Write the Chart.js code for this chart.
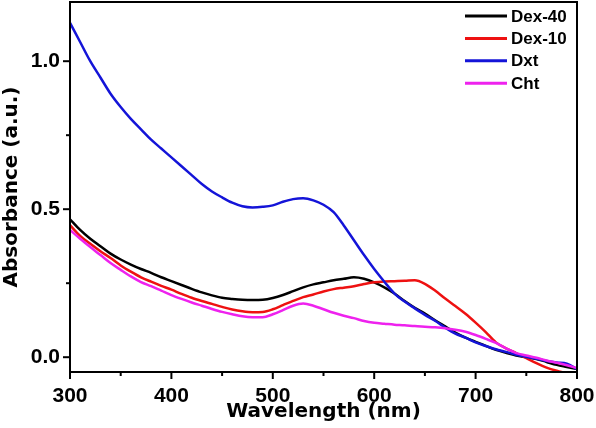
<!DOCTYPE html>
<html>
<head>
<meta charset="utf-8">
<script src="https://cdn.jsdelivr.net/npm/chart.js@4/dist/chart.umd.min.js"></script>
<style>
  html, body { margin: 0; padding: 0; background: #fff; }
  #wrap { width: 596px; height: 428px; }
</style>
</head>
<body>
<div id="wrap"><canvas id="uv"></canvas></div>
<script>
// UV-vis absorbance — 4 mẫu, đọc từ ảnh theo bước 10 nm
const wavelengths = [300, 310, 320, 330, 340, 350, 360, 370, 380, 390, 400, 410, 420, 430, 440, 450, 460, 470, 480, 490,
    500, 510, 520, 530, 540, 550, 560, 570, 580, 590, 600, 610, 620, 630, 640, 650, 660, 670, 680, 690,
    700, 710, 720, 730, 740, 750, 760, 770, 780, 790, 800];

const dex40 = [0.466, 0.43, 0.40, 0.375, 0.35, 0.33, 0.313, 0.298, 0.285, 0.27, 0.257, 0.244, 0.231, 0.219, 0.209, 0.201, 0.197, 0.194, 0.193, 0.194,
    0.2, 0.21, 0.223, 0.236, 0.246, 0.253, 0.26, 0.265, 0.27, 0.265, 0.253, 0.236, 0.215, 0.19, 0.167, 0.147, 0.125, 0.104, 0.083, 0.066,
    0.052, 0.038, 0.025, 0.015, 0.006, 0.0, -0.006, -0.016, -0.026, -0.033, -0.04];

const dex10 = [0.446, 0.41, 0.383, 0.358, 0.335, 0.31, 0.289, 0.27, 0.255, 0.241, 0.228, 0.214, 0.201, 0.19, 0.18, 0.17, 0.161, 0.155, 0.152, 0.153,
    0.162, 0.176, 0.19, 0.203, 0.212, 0.222, 0.23, 0.235, 0.24, 0.247, 0.253, 0.256, 0.257, 0.258, 0.26, 0.248, 0.225, 0.198, 0.173, 0.147,
    0.117, 0.085, 0.05, 0.03, 0.014, -0.003, -0.02, -0.035, -0.046, -0.055, -0.065];

const dxt = [1.13, 1.065, 1.0, 0.945, 0.89, 0.845, 0.805, 0.77, 0.735, 0.705, 0.675, 0.645, 0.615, 0.585, 0.56, 0.54, 0.522, 0.51, 0.506, 0.508,
    0.513, 0.525, 0.534, 0.537, 0.53, 0.515, 0.49, 0.445, 0.395, 0.345, 0.298, 0.255, 0.215, 0.188, 0.165, 0.143, 0.123, 0.1, 0.08, 0.066,
    0.05, 0.038, 0.027, 0.018, 0.008, 0.001, -0.005, -0.013, -0.018, -0.022, -0.04];

const cht = [0.43, 0.40, 0.372, 0.345, 0.318, 0.295, 0.273, 0.254, 0.24, 0.225, 0.21, 0.197, 0.185, 0.174, 0.163, 0.153, 0.145, 0.138, 0.135, 0.135,
    0.145, 0.159, 0.174, 0.181, 0.174, 0.162, 0.15, 0.14, 0.132, 0.122, 0.116, 0.113, 0.11, 0.108, 0.105, 0.103, 0.101, 0.098, 0.093, 0.086,
    0.075, 0.062, 0.048, 0.03, 0.014, 0.006, -0.002, -0.011, -0.019, -0.027, -0.037];

const seriesLabels = ['Dex-40', 'Dex-10', 'Dxt', 'Cht'];
const seriesValues = [dex40, dex10, dxt, cht];
const seriesColors = ['#000000', '#ee1111', '#1414d8', '#ee22ee'];
const seriesOrder = [3, 2, 1, 0];   // order nhỏ = vẽ sau (nằm trên)

const xTicks = [300, 350, 400, 450, 500, 550, 600, 650, 700, 750, 800];
const xTickLabels = [300, 400, 500, 600, 700, 800];
const yTicks = [0, 0.25, 0.5, 0.75, 1.0];
const yTickLabels = [0.0, 0.5, 1.0];

const FONT = 'Liberation Sans, Arial, sans-serif';
const TITLE_FONT = 'DejaVu Sans, sans-serif';   // chữ tiêu đề trục trong ảnh gốc rộng hơn Arial

const toPoints = (ys) => ys.map((y, i) => ({ x: wavelengths[i], y }));
const isMajorY = (v) => yTickLabels.some((t) => Math.abs(t - v) < 1e-6);

// Khung viền + vạch chia ra ngoài (chính/phụ) + chú giải trong vùng vẽ
const frameAndTicks = {
    id: 'frameAndTicks',
    afterDatasetsDraw(chart) {
        const { ctx, chartArea: a, scales } = chart;
        ctx.save();
        ctx.strokeStyle = '#000';
        ctx.lineWidth = 2;
        ctx.strokeRect(a.left, a.top, a.right - a.left, a.bottom - a.top);

        scales.x.ticks.forEach((t) => {
            const px = scales.x.getPixelForValue(t.value);
            const len = xTickLabels.includes(t.value) ? 7 : 4;
            ctx.beginPath(); ctx.moveTo(px, a.bottom); ctx.lineTo(px, a.bottom + len); ctx.stroke();
        });
        scales.y.ticks.forEach((t) => {
            const py = scales.y.getPixelForValue(t.value);
            const len = isMajorY(t.value) ? 7 : 4;
            ctx.beginPath(); ctx.moveTo(a.left, py); ctx.lineTo(a.left - len, py); ctx.stroke();
        });

        // chú giải
        ctx.font = `bold 17px ${FONT}`;
        ctx.textBaseline = 'middle';
        ctx.textAlign = 'left';
        chart.data.datasets.forEach((ds, i) => {
            const y = a.top + 14 + i * 22.4;
            ctx.strokeStyle = ds.borderColor;
            ctx.lineWidth = 3;
            ctx.beginPath(); ctx.moveTo(a.right - 112, y); ctx.lineTo(a.right - 70, y); ctx.stroke();
            ctx.fillStyle = '#000';
            ctx.fillText(ds.label, a.right - 66, y + 1);
        });
        ctx.restore();
    },
};

new Chart(document.getElementById('uv'), {
    type: 'line',
    data: {
        datasets: seriesLabels.map((label, i) => ({
            label,
            data: toPoints(seriesValues[i]),
            borderColor: seriesColors[i],
            backgroundColor: seriesColors[i],
            borderWidth: 2.5,
            pointRadius: 0,
            cubicInterpolationMode: 'monotone',
            order: seriesOrder[i],
        })),
    },
    options: {
        responsive: true,
        maintainAspectRatio: false,
        animation: false,
        layout: { padding: { top: 2, right: 19, bottom: 4, left: 0 } },
        plugins: { legend: { display: false }, tooltip: { enabled: false } },
        scales: {
            x: {
                type: 'linear', min: 300, max: 800,
                grid: { display: false, drawTicks: false },
                border: { display: false },
                ticks: {
                    padding: 12, color: '#000', maxRotation: 0, autoSkip: false,
                    font: { family: FONT, size: 21, weight: 'bold' },
                    callback: (v) => (xTickLabels.includes(v) ? String(v) : ''),
                },
                title: { display: true, text: 'Wavelength (nm)', color: '#000', padding: 0,
                    font: { family: TITLE_FONT, size: 20, weight: 'bold' } },
                afterBuildTicks: (s) => { s.ticks = xTicks.map((value) => ({ value })); },
                afterFit: (s) => { s.height = 52; s.paddingLeft = 0; s.paddingRight = 0; },
            },
            y: {
                min: -0.05, max: 1.2,
                grid: { display: false, drawTicks: false },
                border: { display: false },
                ticks: {
                    padding: 10, color: '#000', autoSkip: false,
                    font: { family: FONT, size: 21, weight: 'bold' },
                    callback: (v) => (isMajorY(v) ? v.toFixed(1) : ''),
                },
                title: { display: true, text: 'Absorbance (a.u.)', color: '#000', padding: 0,
                    font: { family: TITLE_FONT, size: 20, weight: 'bold' } },
                afterBuildTicks: (s) => { s.ticks = yTicks.map((value) => ({ value })); },
                afterFit: (s) => { s.width = 70; s.paddingTop = 0; s.paddingBottom = 0; },
            },
        },
    },
    plugins: [frameAndTicks],
});
</script>
</body>
</html>
